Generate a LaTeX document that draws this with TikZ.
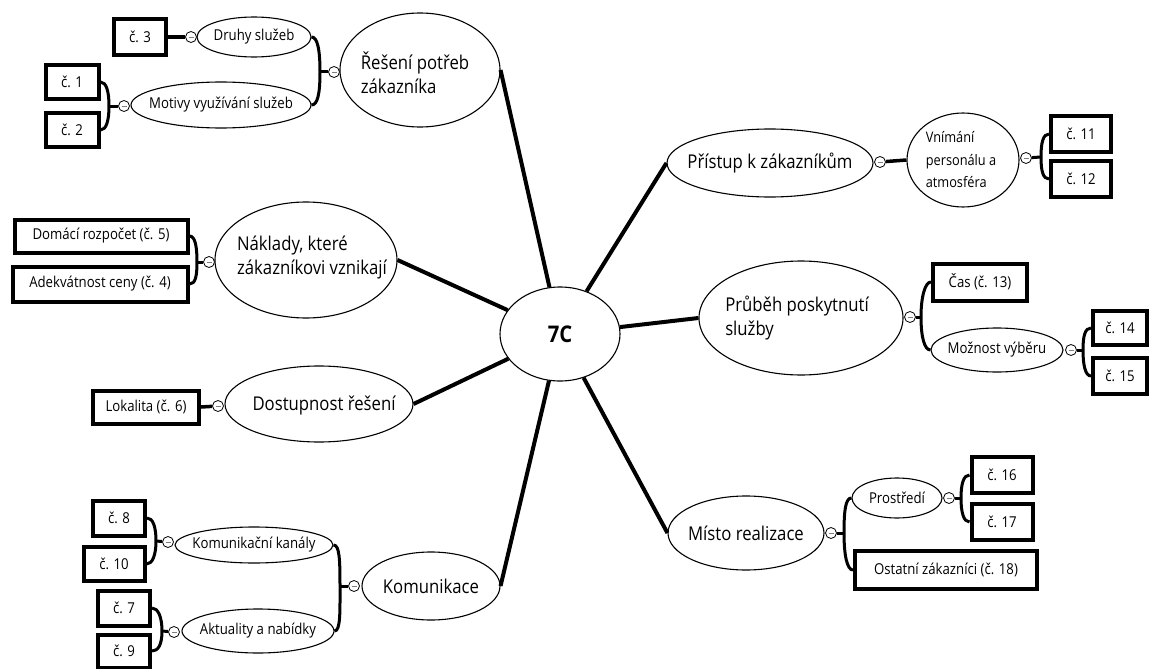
\documentclass[tikz,border=0pt]{standalone}
\usepackage{fontspec}
\setmainfont{Open Sans}[FakeStretch=0.88]
\usetikzlibrary{shapes.geometric}
\newcommand\brkL[5]{\draw[brk] (#1) .. controls +(6,0) and +(0,-#5) .. (#3) .. controls +(0,#5) and +(6,0) .. (#2); \draw[brk] (#3) -- (#4);}
\newcommand\brkR[5]{\draw[brk] (#1) .. controls +(-6,0) and +(0,-#5) .. (#3) .. controls +(0,#5) and +(-6,0) .. (#2); \draw[brk] (#3) -- (#4);}
\tikzset{
 ell/.style={ellipse, draw, line width=1.1pt, inner sep=0pt, fill=white},
 bigt/.style={font=\fontsize{19}{24}\selectfont, align=left, inner sep=0pt},
 midt/.style={font=\fontsize{15}{18}\selectfont, align=left, inner sep=0pt},
 vnt/.style={font=\fontsize{14.5}{22.5}\selectfont, align=left, inner sep=0pt},
 tbox/.style={rectangle, draw, line width=4pt, inner sep=0pt, fill=white, font=\fontsize{15}{18}\selectfont},
 tog/.style={circle, draw, line width=0.8pt, fill=white, minimum size=11pt, inner sep=0pt,
   path picture={\draw[line width=0.5pt, gray] ([xshift=-2.5pt]path picture bounding box.center) -- ([xshift=2.5pt]path picture bounding box.center);}},
 conn/.style={line width=4pt},
 brk/.style={line width=3pt},
 tie/.style={line width=3.5pt},
}
\begin{document}
\begin{tikzpicture}[x=1pt,y=-1pt]
\fill[white] (0,0) rectangle (1149,669);
\useasboundingbox (0,0) rectangle (1149,669);

% centre
\node[ell, minimum width=120pt, minimum height=94pt] (C) at (560,334) {};
\node[font=\fontsize{23}{26}\selectfont\bfseries, inner sep=0pt] (Ct) at (C) {7C};

% ---- Reseni potreb zakaznika
\node[ell, minimum width=160pt, minimum height=114pt] (R) at (420,70) {};
\node[bigt] (Rt) at (415,73) {Řešení potřeb\\zákazníka};
\node[ell, minimum width=114pt, minimum height=40pt] (D1) at (254,37) {};
\node[midt] (D1t) at (D1) {Druhy služeb};
\node[ell, minimum width=180pt, minimum height=46pt] (D2) at (221,105) {};
\node[midt] (D2t) at (D2) {Motivy využívání služeb};
\node[tbox, minimum width=52pt, minimum height=36pt] (b3) at (140,37) {č. 3};
\node[tbox, minimum width=53pt, minimum height=33pt] (b1) at (72,82) {č. 1};
\node[tbox, minimum width=53pt, minimum height=34pt] (b2) at (72,130) {č. 2};
\node[tog] (Rc) at (334,72) {};
\node[tog] (D1c) at (191,37) {};
\node[tog] (D2c) at (124,106) {};
\draw[tie] (b3.east) -- (D1c);
\brkL{D1.east}{D2.east}{320,72}{Rc}{22}
\brkL{b1.east}{b2.east}{109,106}{D2c}{14}

% ---- Naklady
\node[ell, minimum width=182pt, minimum height=116pt] (N) at (306,260) {};
\node[bigt] (Nt) at (312,258) {Náklady, které\\zákazníkovi vznikají};
\node[tbox, minimum width=173pt, minimum height=33pt] (b5) at (101,236) {Domácí rozpočet (č. 5)};
\node[tbox, minimum width=175pt, minimum height=35pt] (b4) at (100,284) {Adekvátnost ceny (č. 4)};
\node[tog] (Nc) at (209,262) {};
\brkL{b5.east}{b4.east}{197,262}{Nc}{14}

% ---- Dostupnost reseni
\node[ell, minimum width=188pt, minimum height=76pt] (Do) at (319,404) {};
\node[bigt] (Dot) at (324,406) {Dostupnost řešení};
\node[tbox, minimum width=106pt, minimum height=33pt] (b6) at (146,407) {Lokalita (č. 6)};
\node[tog] (Doc) at (218,406) {};
\draw[tie] (b6.east) -- (Doc);

% ---- Komunikace
\node[ell, minimum width=138pt, minimum height=68pt] (K) at (431,586) {};
\node[bigt] (Kt) at (K) {Komunikace};
\node[ell, minimum width=158pt, minimum height=36pt] (K1) at (254,545) {};
\node[midt] (K1t) at (K1) {Komunikační kanály};
\node[ell, minimum width=152pt, minimum height=44pt] (K2) at (258,631) {};
\node[midt] (K2t) at (K2) {Aktuality a nabídky};
\node[tbox, minimum width=52pt, minimum height=35pt] (b8) at (119,518) {č. 8};
\node[tbox, minimum width=61pt, minimum height=34pt] (b10) at (114,564) {č. 10};
\node[tbox, minimum width=52pt, minimum height=35pt] (b7) at (124,608) {č. 7};
\node[tbox, minimum width=52pt, minimum height=33pt] (b9) at (124,651) {č. 9};
\node[tog] (Kc) at (354,586) {};
\node[tog] (K1c) at (168,542) {};
\node[tog] (K2c) at (174,632) {};
\brkL{K1.east}{K2.east}{340,586}{Kc}{26}
\brkL{b8.east}{b10.east}{156,541}{K1c}{14}
\brkL{b7.east}{b9.east}{162,631}{K2c}{14}

% ---- Pristup k zakaznikum
\node[ell, minimum width=206pt, minimum height=68pt] (P) at (770,163) {};
\node[bigt] (Pt) at (P) {Přístup k zákazníkům};
\node[ell, minimum width=112pt, minimum height=94pt] (Vn) at (963,160) {};
\node[vnt] (Vnt) at (961,160) {Vnímání\\personálu a\\atmosféra};
\node[tbox, minimum width=60pt, minimum height=36pt] (b11) at (1081,134) {č. 11};
\node[tbox, minimum width=60pt, minimum height=36pt] (b12) at (1081,179) {č. 12};
\node[tog] (Pc) at (880,162) {};
\node[tog] (Vnc) at (1026,158) {};
\draw[tie] (Pc) -- (Vn.west);
\brkR{b11.west}{b12.west}{1041,157}{Vnc}{14}

% ---- Prubeh poskytnuti sluzby
\node[ell, minimum width=204pt, minimum height=114pt] (Pr) at (801,318) {};
\node[bigt] (Prt) at (797,318) {Průběh poskytnutí\\služby};
\node[tbox, minimum width=94pt, minimum height=37pt] (b13) at (980,282) {Čas (č. 13)};
\node[ell, minimum width=132pt, minimum height=44pt] (Mo) at (997,350) {};
\node[midt] (Mot) at (Mo) {Možnost výběru};
\node[tbox, minimum width=54pt, minimum height=34pt] (b14) at (1120,328) {č. 14};
\node[tbox, minimum width=54pt, minimum height=36pt] (b15) at (1120,376) {č. 15};
\node[tog] (Prc) at (910,317) {};
\node[tog] (Moc) at (1071,350) {};
\brkR{b13.west}{Mo.west}{921,317}{Prc}{20}
\brkR{b14.west}{b15.west}{1083,350}{Moc}{14}

% ---- Misto realizace
\node[ell, minimum width=156pt, minimum height=74pt] (M) at (746,533) {};
\node[bigt] (Mt) at (M) {Místo realizace};
\node[ell, minimum width=90pt, minimum height=40pt] (Pf) at (897,498) {};
\node[midt] (Pft) at (Pf) {Prostředí};
\node[tbox, minimum width=61pt, minimum height=36pt] (b16) at (1002,475) {č. 16};
\node[tbox, minimum width=61pt, minimum height=36pt] (b17) at (1002,522) {č. 17};
\node[tbox, minimum width=182pt, minimum height=38pt] (b18) at (946,570) {Ostatní zákazníci (č. 18)};
\node[tog] (Mc) at (831,533) {};
\node[tog] (Pfc) at (949,498) {};
\brkR{Pf.west}{b18.west}{844,533}{Mc}{22}
\brkR{b16.west}{b17.west}{961,498}{Pfc}{14}

% ---- spokes
\draw[conn] (R.east) -- (C);
\draw[conn] (N.east) -- (C);
\draw[conn] (Do.east) -- (C);
\draw[conn] (K.east) -- (C);
\draw[conn] (P.west) -- (C);
\draw[conn] (Pr.west) -- (C);
\draw[conn] (M.west) -- (C);
\end{tikzpicture}
\end{document}
